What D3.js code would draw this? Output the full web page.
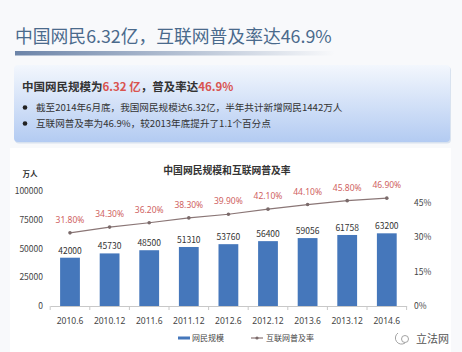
<!DOCTYPE html>
<html>
<head>
<meta charset="utf-8">
<script src="https://cdn.jsdelivr.net/npm/d3@7"></script>
<style>
  body { margin: 0; background: #f8f9fb; }
  svg { display: block; font-family: "Noto Sans CJK SC", "Noto Sans", sans-serif; }
</style>
</head>
<body>
<div id="container"></div>
<script>
// data
const periods = ["2010.6", "2010.12", "2011.6", "2011.12", "2012.6", "2012.12", "2013.6", "2013.12", "2014.6"];
const netizens = [42000, 45730, 48500, 51310, 53760, 56400, 59056, 61758, 63200];
const penetration = [31.8, 34.3, 36.2, 38.3, 39.9, 42.1, 44.1, 45.8, 46.9];
const leftTicks = [0, 25000, 50000, 75000, 100000];
const rightTicks = [0, 15, 30, 45];

const width = 462, height = 352;

const svg = d3.select("#container").append("svg")
    .attr("width", width)
    .attr("height", height);

const defs = svg.append("defs");
const underline = defs.append("linearGradient").attr("id", "underline");
underline.append("stop").attr("offset", "0%").attr("stop-color", "#6c84a8");
underline.append("stop").attr("offset", "100%").attr("stop-color", "#6c84a8").attr("stop-opacity", 0);
const boxGrad = defs.append("linearGradient").attr("id", "boxgrad")
    .attr("x1", 0).attr("y1", 0).attr("x2", 0).attr("y2", 1);
boxGrad.append("stop").attr("offset", "0%").attr("stop-color", "#f3f7fd");
boxGrad.append("stop").attr("offset", "100%").attr("stop-color", "#b3cbf2");

// page header
svg.append("rect").attr("width", width).attr("height", height).attr("fill", "#f8f9fb");
svg.append("text").attr("x", 15).attr("y", 43)
    .attr("font-size", 17.8).attr("fill", "#4a6a8c")
    .text("中国网民6.32亿，互联网普及率达46.9%");
svg.append("rect").attr("x", 15).attr("y", 51).attr("width", 320).attr("height", 4.5)
    .attr("fill", "url(#underline)");

// info box
svg.append("rect").attr("x", 15).attr("y", 66.5).attr("width", 436).attr("height", 77)
    .attr("rx", 4).attr("fill", "#d8e2ef");
svg.append("rect").attr("x", 14).attr("y", 65).attr("width", 436).attr("height", 77)
    .attr("rx", 4).attr("fill", "url(#boxgrad)");
const head = svg.append("text").attr("x", 22).attr("y", 91)
    .attr("font-size", 11.5).attr("font-weight", "bold").attr("fill", "#333");
head.append("tspan").text("中国网民规模为");
head.append("tspan").attr("fill", "#d9534f").text("6.32 亿");
head.append("tspan").text("，普及率达");
head.append("tspan").attr("fill", "#d9534f").text("46.9%");

const bullets = [
  "截至2014年6月底，我国网民规模达6.32亿，半年共计新增网民1442万人",
  "互联网普及率为46.9%，较2013年底提升了1.1个百分点"
];
bullets.forEach(function(t, i) {
  const y = 111 + i * 16;
  svg.append("circle").attr("cx", 25).attr("cy", y - 3.5).attr("r", 2.3).attr("fill", "#222");
  svg.append("text").attr("x", 36).attr("y", y)
      .attr("font-size", 9.6).attr("fill", "#333").text(t);
});

// chart panel
svg.append("rect").attr("x", 10).attr("y", 148).attr("width", 441).attr("height", 204)
    .attr("fill", "#fff");

const x = d3.scaleBand()
    .domain(periods)
    .range([50.2, 406.6])
    .paddingInner(0.5)
    .paddingOuter(0.25);
const yL = d3.scaleLinear().domain([0, 100000]).range([306, 191]);
const yR = d3.scaleLinear().domain([0, 50]).range([306, 191]);

svg.append("text").attr("x", 227).attr("y", 174).attr("text-anchor", "middle")
    .attr("font-size", 9.8).attr("font-weight", "bold").attr("fill", "#333")
    .text("中国网民规模和互联网普及率");
svg.append("text").attr("x", 30).attr("y", 177).attr("text-anchor", "middle")
    .attr("font-size", 7.5).attr("font-weight", "bold").attr("fill", "#333")
    .text("万人");

// left axis labels
svg.append("g").selectAll("text")
  .data(leftTicks)
  .enter().append("text")
    .attr("x", 43)
    .attr("y", d => yL(d) + 3)
    .attr("text-anchor", "end")
    .attr("font-size", 8.5).attr("fill", "#444")
    .text(d => d);

// right axis labels
svg.append("g").selectAll("text")
  .data(rightTicks)
  .enter().append("text")
    .attr("x", 414)
    .attr("y", d => yR(d) + 3)
    .attr("font-size", 8.5).attr("fill", "#444")
    .text(d => d + "%");

// bars
svg.append("g").selectAll("rect")
  .data(netizens)
  .enter().append("rect")
    .attr("x", (d, i) => x(periods[i]))
    .attr("y", d => yL(d))
    .attr("width", x.bandwidth())
    .attr("height", d => yL(0) - yL(d))
    .attr("fill", "#4577bb");

svg.append("g").selectAll("text")
  .data(netizens)
  .enter().append("text")
    .attr("x", (d, i) => x(periods[i]) + x.bandwidth() / 2)
    .attr("y", d => yL(d) - 4)
    .attr("text-anchor", "middle")
    .attr("font-size", 8.5).attr("fill", "#333")
    .text(d => d);

// bottom axis
const xAxis = svg.append("g").attr("transform", "translate(0,306)")
    .call(d3.axisBottom(x).tickSize(0).tickPadding(12));
xAxis.select(".domain").attr("stroke", "#c8c8c8");
xAxis.selectAll("text").attr("font-size", 8.5).attr("fill", "#444")
    .attr("font-family", "'Noto Sans', sans-serif");
xAxis.selectAll(".sep")
  .data(periods.concat([null]))
  .enter().append("line")
    .attr("class", "sep")
    .attr("x1", (d, i) => x.range()[0] + x.step() * i)
    .attr("x2", (d, i) => x.range()[0] + x.step() * i)
    .attr("y1", 0).attr("y2", 4)
    .attr("stroke", "#c8c8c8");

// penetration line
const line = d3.line()
    .x((d, i) => x(periods[i]) + x.bandwidth() / 2)
    .y(d => yR(d));
svg.append("path").datum(penetration)
    .attr("d", line)
    .attr("fill", "none").attr("stroke", "#8a7676").attr("stroke-width", 1.2);
svg.append("g").selectAll("circle")
  .data(penetration)
  .enter().append("circle")
    .attr("cx", (d, i) => x(periods[i]) + x.bandwidth() / 2)
    .attr("cy", d => yR(d))
    .attr("r", 1.8)
    .attr("fill", "#7a6a6a");
svg.append("g").selectAll("text")
  .data(penetration)
  .enter().append("text")
    .attr("x", (d, i) => x(periods[i]) + x.bandwidth() / 2)
    .attr("y", d => yR(d) - 10)
    .attr("text-anchor", "middle")
    .attr("font-size", 8.5).attr("fill", "#cf5f5f")
    .attr("font-family", "'Noto Sans', sans-serif")
    .text(d => d.toFixed(2) + "%");

// legend
const lg = svg.append("g").attr("font-size", 8).attr("fill", "#444");
lg.append("rect").attr("x", 178).attr("y", 336.5).attr("width", 12).attr("height", 3).attr("fill", "#4577bb");
lg.append("text").attr("x", 192).attr("y", 341).text("网民规模");
lg.append("line").attr("x1", 251).attr("x2", 263).attr("y1", 338).attr("y2", 338)
    .attr("stroke", "#8a7676").attr("stroke-width", 1.2);
lg.append("circle").attr("cx", 257).attr("cy", 338).attr("r", 1.6).attr("fill", "#7a6a6a");
lg.append("text").attr("x", 266).attr("y", 341).text("互联网普及率");

// watermark
const wm = svg.append("g").attr("fill", "none").attr("stroke", "#999").attr("stroke-width", 0.9);
wm.append("path").attr("d", "M398,333 a6,6 0 1,0 7,10");
wm.append("circle").attr("cx", 405).attr("cy", 339).attr("r", 3.5);
svg.append("text").attr("x", 416).attr("y", 343)
    .attr("font-size", 11).attr("fill", "#555").text("立法网");
</script>
</body>
</html>
